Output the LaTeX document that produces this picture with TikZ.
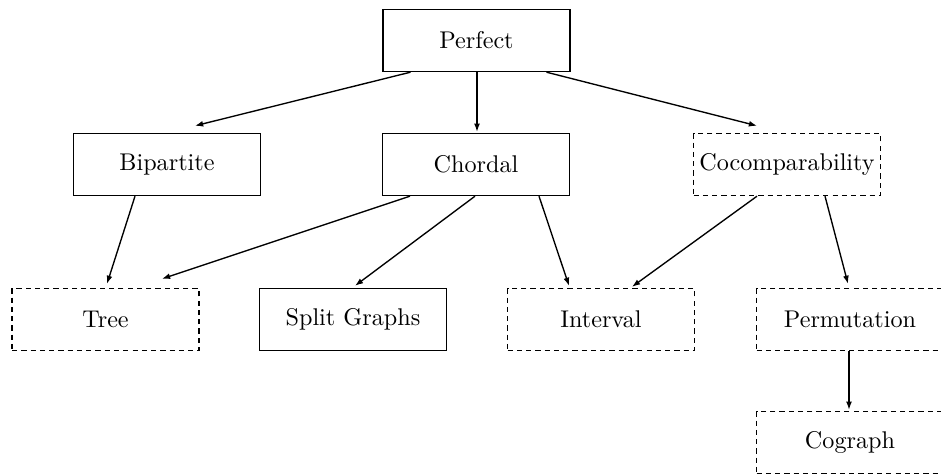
\documentclass[tikz,border=0pt]{standalone}
\usetikzlibrary{calc,arrows.meta}
\begin{document}
\begin{tikzpicture}[x=0.4425pt,y=-0.4425pt,
  box/.style={draw,line width=0.65pt,minimum width=82.7pt,minimum height=27.4pt,inner sep=0pt,font=\fontsize{10.7pt}{13pt}\selectfont},
  dbox/.style={box,dash pattern=on 2.3pt off 1.8pt},
  arr/.style={line width=0.6pt,-{Latex[length=3.6pt,width=2.6pt]}}]
\useasboundingbox (0,0) rectangle (941,475);
\clip (0,0) rectangle (941,475);
\node[box]  (Perfect)  at (476.5,40.5) {Perfect};
\node[box]  (Bipartite) at (167,164.5) {Bipartite};
\node[box]  (Chordal)  at (476,164.5) {Chordal};
\node[dbox] (Cocomp)   at (787,164.5) {Cocomparability};
\node[dbox] (Tree)     at (105.5,319.5) {Tree};
\node[box]  (Split)    at (353,319.5) {Split Graphs};
\node[dbox] (Interval) at (601,319.5) {Interval};
\node[dbox] (Perm)     at (850,319.5) {Permutation};
\node[dbox] (Cograph)  at (850,442.5) {Cograph};
\draw[arr] ($(Perfect.south)+(-66,0)$) -- ($(Bipartite.north)+(28,-7)$);
\draw[arr] ($(Perfect.south)+(0.5,0)$) -- ($(Chordal.north)+(1,-1)$);
\draw[arr] ($(Perfect.south)+(70,0)$) -- ($(Cocomp.north)+(-30,-7)$);
\draw[arr] ($(Bipartite.south)+(-32,0)$) -- ($(Tree.north)+(1.5,-4)$);
\draw[arr] ($(Chordal.south)+(-66,0)$) -- ($(Tree.north)+(56.5,-9)$);
\draw[arr] ($(Chordal.south)+(-1,0)$) -- ($(Split.north)+(2,-2)$);
\draw[arr] ($(Chordal.south)+(63,0)$) -- ($(Interval.north)+(-32,-2)$);
\draw[arr] ($(Cocomp.south)+(-30,0)$) -- ($(Interval.north)+(31,-1)$);
\draw[arr] ($(Cocomp.south)+(38,0)$) -- ($(Perm.north)+(-2,-4)$);
\draw[arr] ($(Perm.south)+(-1,0)$) -- ($(Cograph.north)+(-1,-1)$);
\end{tikzpicture}
\end{document}
